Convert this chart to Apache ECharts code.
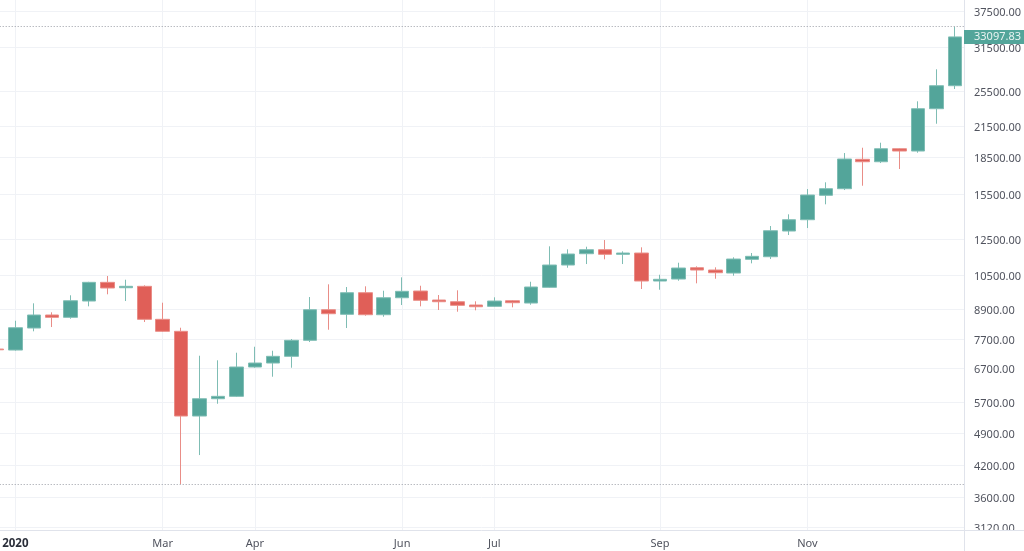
<!DOCTYPE html>
<html>
<head>
<meta charset="utf-8">
<style>
  html,body{margin:0;padding:0;background:#fff}
  #main{width:1024px;height:551px}
</style>
<script src="https://cdn.jsdelivr.net/npm/echarts@6/dist/echarts.min.js"></script>
</head>
<body>
<div id="main"></div>
<script>
// weekly candles, first one is only half on screen
const weeks=['2019-12-30',
  '2020-01-06','2020-01-13','2020-01-20','2020-01-27',
  '2020-02-03','2020-02-10','2020-02-17','2020-02-24',
  '2020-03-02','2020-03-09','2020-03-16','2020-03-23','2020-03-30',
  '2020-04-06','2020-04-13','2020-04-20','2020-04-27',
  '2020-05-04','2020-05-11','2020-05-18','2020-05-25',
  '2020-06-01','2020-06-08','2020-06-15','2020-06-22','2020-06-29',
  '2020-07-06','2020-07-13','2020-07-20','2020-07-27',
  '2020-08-03','2020-08-10','2020-08-17','2020-08-24','2020-08-31',
  '2020-09-07','2020-09-14','2020-09-21','2020-09-28',
  '2020-10-05','2020-10-12','2020-10-19','2020-10-26',
  '2020-11-02','2020-11-09','2020-11-16','2020-11-23','2020-11-30',
  '2020-12-07','2020-12-14','2020-12-21','2020-12-28']
const opens=[7356,7321,8140,8667,8571,9271,10145,9885,9952,8489,8012,5327,5790,5857,6746,6877,7103,7672,8891,8696,
  9650,8679,9419,9729,9316,9240,9094,9037,9284,9182,9904,11027,11644,11871,11611,11683,10209,10307,10885,10765,
  10610,11334,11477,12990,13717,15429,15928,18351,18139,19312,19100,23420,26163]
const closes=[7330,8152,8667,8571,9284,10145,9871,9952,8489,8012,5327,5790,5857,6746,6877,7103,7672,8891,8721,9650,
  8679,9419,9715,9303,9240,9081,9020,9271,9196,9919,11027,11628,11871,11611,11683,10209,10293,10869,10765,10626,
  11350,11499,13009,13717,15451,15928,18377,18139,19312,19100,23420,26163,33097.83]
const lows=[7300,7300,8012,8179,8513,9037,9576,9271,8379,7985,3838,4414,5652,5838,6723,6438,6723,7609,8074,8140,
  8637,8596,9094,9037,8878,8806,8865,9007,8994,9107,9885,10885,11080,11334,11080,9823,9790,10223,10096,10322,
  10473,11117,11350,12742,13179,14774,15828,16159,18026,17513,18944,21785,25750]
const highs=[7380,8431,9169,8780,9530,10170,10458,10273,10000,9196,8152,7123,6967,7227,7438,7296,7720,9452,10048,9919,
  9952,9743,10392,9980,9543,9762,9258,9438,9316,10174,12067,11894,12044,12439,11779,12009,10524,11150,10958,10906,
  11444,11683,13307,14078,15904,16426,18916,19405,19880,19350,24268,28315,34766]

const yTicks=[3120,3600,4200,4900,5700,6700,7700,8900,10500,12500,15500,18500,21500,25500,31500,37500]
const monthWeeks=['2020-01-06','2020-03-02','2020-04-06','2020-06-01','2020-07-06','2020-09-07','2020-11-02']
const monthNames=['2020','Mar','Apr','Jun','Jul','Sep','Nov']

const lastPrice=33097.83
const highPrice=34766
const lowPrice=3838

const fontName='"Noto Sans",sans-serif'
const candleData=weeks.map((w,i)=>[opens[i],closes[i],lows[i],highs[i]])
const isMonth=(index,value)=>monthWeeks.indexOf(value)>=0

const myChart=echarts.init(document.querySelector('#main'))
const option={
  animation:false,
  backgroundColor:'#fff',
  grid:{left:-12.3,right:60,top:0,bottom:21,outerBoundsMode:'none'},
  xAxis:{
    type:'category',
    data:weeks,
    axisLine:{show:true,lineStyle:{color:'#e0e3eb',width:1}},
    axisTick:{show:false,alignWithLabel:true,interval:isMonth},
    axisLabel:{
      interval:isMonth,
      margin:8,
      fontFamily:fontName,
      fontSize:11,
      color:'#50535e',
      formatter:value=>{
        const name=monthNames[monthWeeks.indexOf(value)]
        return name==='2020' ? '{year|'+name+'}' : name
      },
      rich:{year:{fontFamily:fontName,fontSize:11.5,fontWeight:'bold',color:'#2a2e39'}}
    },
    splitLine:{show:true,alignWithLabel:true,interval:isMonth,lineStyle:{color:'#f0f2f6',width:1}}
  },
  yAxis:{
    type:'log',
    position:'right',
    min:3076,
    max:39542,
    axisLine:{show:true,onZero:false,lineStyle:{color:'#e0e3eb',width:1}},
    axisTick:{show:false,customValues:yTicks},
    axisLabel:{
      customValues:yTicks,
      margin:10,
      fontFamily:fontName,
      fontSize:11,
      color:'#50535e',
      formatter:value=>'{p|'+Number(value).toFixed(2)+'}',
      rich:{p:{fontFamily:fontName,fontSize:11,color:'#50535e',padding:[3,0,0,0]}}
    },
    splitLine:{show:true,lineStyle:{color:'#f0f2f6',width:1}}
  },
  series:[{
    type:'candlestick',
    data:candleData,
    barWidth:14,
    z:5,
    clip:false,
    itemStyle:{
      color:'#53a59a',
      color0:'#e05f58',
      borderColor:'#7fbdb4',
      borderColor0:'#e98d87',
      borderWidth:1
    },
    markLine:{
      silent:true,
      symbol:'none',
      animation:false,
      z:10,
      data:[
        {yAxis:highPrice,lineStyle:{color:'#9a9da5',type:[1,2],width:1},label:{show:false}},
        {yAxis:lowPrice,lineStyle:{color:'#9a9da5',type:[1,2],width:1},label:{show:false}},
        {
          yAxis:lastPrice,
          lineStyle:{color:'transparent'},
          label:{
            show:true,
            position:'end',
            distance:0,
            opacity:1,
            formatter:lastPrice.toFixed(2),
            fontFamily:fontName,
            fontSize:11,
            color:'#e8f3f1',
            backgroundColor:'#53a59a',
            padding:[2,4,1,10]
          }
        }
      ]
    }
  }],
  // frame corner bottom right, the scale label is cut off by it
  graphic:[
    {type:'rect',z:100,shape:{x:965,y:530.5,width:59,height:21},style:{fill:'#fff'}},
    {type:'line',z:101,shape:{x1:964.5,y1:530,x2:964.5,y2:551},style:{stroke:'#e0e3eb',lineWidth:1}},
    {type:'line',z:101,shape:{x1:964,y1:530.5,x2:1024,y2:530.5},style:{stroke:'#e0e3eb',lineWidth:1}}
  ]
}
myChart.setOption(option)
</script>
</body>
</html>
